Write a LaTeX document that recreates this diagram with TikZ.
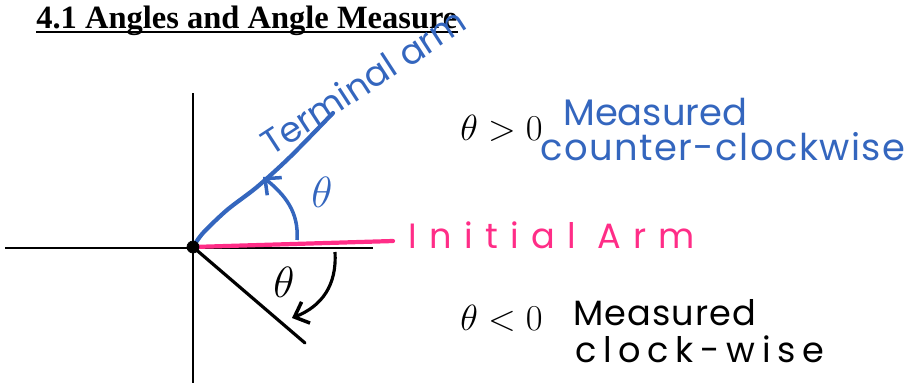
\documentclass[tikz,border=0pt]{standalone}
\usepackage{fontspec}
\usetikzlibrary{arrows.meta}
\newfontfamily\titlefont{Liberation Serif}
\newfontfamily\handfont{Poppins}
\definecolor{armblue}{HTML}{3466BE}
\definecolor{armpink}{HTML}{FF2D87}
\tikzset{
  hand/.style={inner sep=0pt, anchor=base west, font=\handfont\fontsize{20}{22}\selectfont},
  mathlabel/.style={inner sep=0pt, anchor=base west, font=\fontsize{20}{22}\selectfont},
  barb/.style={-{Straight Barb[length=7pt, width=13pt, line width=2pt]}}
}
\begin{document}
\begin{tikzpicture}[x=0.02cm, y=-0.02cm]
  \useasboundingbox (0,0) rectangle (910,383);
  % Title
  \node (title) [inner sep=0pt, anchor=base west, font=\titlefont\bfseries\fontsize{18.5}{21}\selectfont] at (36,28) {4.1 Angles and Angle Measure};
  \draw [line width=1pt] ([yshift=-2.2pt]title.base west) -- ([yshift=-2.2pt]title.base east);
  % Axes
  \coordinate (O) at (193,247);
  \coordinate (xl) at (5,248);
  \coordinate (xr) at (373,248);
  \coordinate (yt) at (193,93);
  \coordinate (yb) at (193,383);
  \draw [line width=0.6pt] (xl) -- (xr);
  \draw [line width=0.6pt] (yt) -- (yb);
  % Initial arm
  \coordinate (init) at (393,241);
  \draw [armpink, line width=2.4pt, line cap=round] (O) -- (init);
  % Terminal arm (positive angle)
  \coordinate (term) at (333,113);
  \draw [armblue, line width=2.4pt, line cap=round] plot [smooth] coordinates {(O) (203,233) (227,210) (257,187) (290,157) (term)};
  % Terminal arm (negative angle)
  \coordinate (neg) at (305,343);
  \draw [line width=1.8pt, line cap=round] (O) -- (neg);
  % Origin
  \filldraw [black] (O) circle (6);
  % Angle arrows
  \coordinate (ccwa) at (297,240);
  \coordinate (ccwb) at (263,177);
  \draw [armblue, line width=2pt, barb] (ccwa) .. controls (299,212) and (285,195) .. (ccwb);
  \node (thetap) [armblue, font=\fontsize{26}{28}\selectfont] at (322,192) {$\theta$};
  \coordinate (cwa) at (335,252);
  \coordinate (cwb) at (292,318);
  \draw [line width=1.8pt, barb] (cwa) .. controls (337,285) and (322,306) .. (cwb);
  \node (thetan) [font=\fontsize{26}{28}\selectfont] at (284,282) {$\theta$};
  % Labels
  \node (termlbl) [hand, armblue, rotate=33] at (271,157) {Terminal arm};
  \node (initlbl) [hand, armpink, font=\handfont\fontsize{20}{22}\selectfont\addfontfeature{LetterSpace=35}] at (408,248) {Initial Arm};
  \node (pos) [mathlabel] at (460,140) {$\theta>0$};
  \node (posa) [hand, armblue, font=\handfont\fontsize{21}{23}\selectfont] at (563,125) {Measured};
  \node (posb) [hand, armblue, font=\handfont\fontsize{21}{23}\selectfont\addfontfeature{LetterSpace=4}] at (540,160) {counter-clockwise};
  \node (negl) [mathlabel] at (460,330) {$\theta<0$};
  \node (nega) [hand, font=\handfont\fontsize{20}{22}\selectfont\addfontfeature{LetterSpace=3}] at (573,325) {Measured};
  \node (negb) [hand, font=\handfont\fontsize{20}{22}\selectfont\addfontfeature{LetterSpace=19}] at (575,362) {clock-wise};
\end{tikzpicture}
\end{document}
